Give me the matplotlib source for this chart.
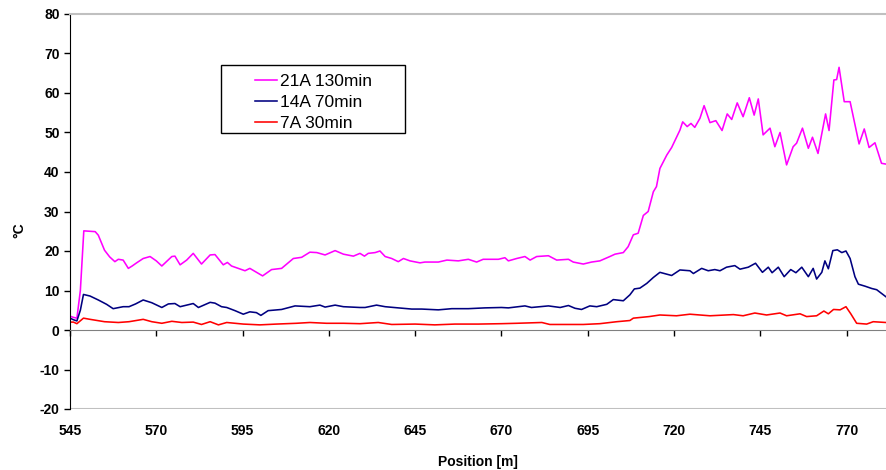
import matplotlib
matplotlib.use('Agg')
from matplotlib import pyplot as plt
from matplotlib.patches import Rectangle

# 21A 130min
x_21a = [545, 546, 547, 548, 549, 550.5, 552.3, 553.2, 555, 556.5, 558, 559, 560.4, 561.9, 563,
         564.3, 566.2, 568.2, 570, 571.6, 574.5, 575.4, 576.9, 578.8, 580.7, 583.1, 585.6, 587,
         589.4, 590.6, 591.8, 595.7, 597.1, 600.8, 603.4, 606.3, 609.7, 612.1, 614.5, 616.5,
         618.9, 621.8, 624.2, 627.1, 629, 630.3, 631.4, 633.4, 634.8, 636.3, 638.2, 640.1, 641.6,
         643.5, 646.4, 647.8, 651.7, 654.2, 657.5, 660.4, 662.8, 664.7, 669.1, 671, 672, 674.4,
         676.8, 678.3, 680.2, 683.6, 686, 689.4, 690.8, 693.7, 696.1, 698.5, 701.4, 702.9, 705.3,
         706.7, 708.2, 709.6, 711.1, 712.5, 714, 714.9, 715.9, 717.9, 719.3, 721.7, 722.5, 723.8,
         724.9, 726, 727.5, 728.7, 730.4, 732.1, 733.9, 735.4, 736.7, 738.3, 740, 741.8, 743.2,
         744.4, 745.8, 747.8, 749.2, 750.7, 752.6, 754.5, 755.5, 757.2, 758.9, 760.1, 761.7,
         763.9, 764.9, 766.3, 767.1, 767.8, 769.3, 771, 773.6, 775.1, 776.5, 778.2, 780.1, 781.4]
y_21a = [3.5, 3.2, 3.0, 10.0, 25.1, 25.0, 24.9, 24.0, 20.2, 18.5, 17.3, 17.9, 17.7, 15.6, 16.2,
         17.0, 18.1, 18.6, 17.5, 16.2, 18.6, 18.7, 16.5, 17.7, 19.4, 16.7, 19.0, 19.1,
         16.5, 17.1, 16.2, 15.0, 15.6, 13.7, 15.3, 15.6, 18.1, 18.4, 19.7, 19.6,
         19.0, 20.1, 19.2, 18.7, 19.4, 18.7, 19.4, 19.6, 20.0, 18.6, 18.1, 17.3, 18.1,
         17.5, 17.0, 17.2, 17.2, 17.7, 17.5, 17.9, 17.2, 17.9, 17.9, 18.3, 17.5, 18.1,
         18.6, 17.7, 18.6, 18.8, 17.7, 17.9, 17.2, 16.7, 17.2, 17.5, 18.6, 19.2, 19.6,
         21.1, 24.1, 24.5, 29.0, 30.0, 35.0, 36.3, 40.9, 44.3, 46.2, 50.6, 52.7, 51.5,
         52.3, 51.3, 53.6, 56.8, 52.5, 53.0, 50.5, 54.7, 53.3, 57.5, 54.0, 58.8, 54.4,
         58.5, 49.4, 51.1, 46.4, 50.0, 41.8, 46.4, 47.3, 51.1, 46.0, 48.8, 44.7,
         54.7, 50.5, 63.3, 63.4, 66.5, 57.8, 57.8, 47.1, 50.9, 46.2, 47.4, 42.2, 42.0]

# 14A 70min
x_14a = [545, 546, 547, 548, 548.9, 550.8, 553.2, 555.6, 557.5, 560.4, 562.1, 564, 566.2, 568.7,
         571.6, 573.5, 575.4, 576.9, 578.8, 580.7, 582.2, 585.6, 587, 588.9, 590.4, 592.8, 595.2,
         597.1, 599, 600.3, 602.4, 606.3, 610.2, 614.5, 617.4, 618.9, 621.8, 624.2, 629, 630.5,
         633.8, 636.3, 640.1, 644, 646.9, 651.7, 655.6, 660.4, 665.2, 670, 672, 676.8, 678.7,
         683.6, 687, 689.4, 691.3, 693.2, 695.6, 697.6, 700.5, 702.4, 705.3, 707.2, 708.5, 710.1,
         712.1, 714, 715.9, 719.3, 721.7, 724.6, 725.6, 728, 729.9, 731.8, 733.3, 735.2, 737.6,
         739.1, 741.5, 743.6, 745.6, 747.3, 748.4, 750.2, 751.9, 753.8, 755.3, 757, 758.9, 760.3,
         761.3, 762.8, 763.7, 764.7, 766, 767.3, 768.6, 769.8, 771, 772.4, 773.4, 775.3, 777.3,
         778.7, 781.4]
y_14a = [3.0, 2.6, 2.3, 5.0, 9.0, 8.6, 7.6, 6.5, 5.4, 5.9, 5.9, 6.6, 7.6, 6.9,
         5.7, 6.6, 6.7, 5.9, 6.3, 6.7, 5.7, 7.0, 6.8, 5.9, 5.7, 4.9, 4.0,
         4.6, 4.4, 3.7, 4.9, 5.2, 6.1, 5.9, 6.3, 5.8, 6.3, 5.9, 5.7, 5.7,
         6.3, 5.9, 5.6, 5.3, 5.3, 5.1, 5.4, 5.4, 5.6, 5.7, 5.6, 6.1, 5.7,
         6.1, 5.7, 6.2, 5.5, 5.2, 6.1, 5.9, 6.5, 7.7, 7.4, 8.9, 10.4, 10.6,
         11.8, 13.3, 14.6, 13.8, 15.2, 15.0, 14.3, 15.6, 15.0, 15.3, 15.0, 15.9, 16.3,
         15.4, 15.9, 16.9, 14.6, 15.9, 14.5, 15.9, 13.5, 15.3, 14.5, 15.9, 13.5, 15.6,
         12.9, 14.6, 17.5, 15.5, 20.1, 20.3, 19.6, 20.0, 18.1, 13.5, 11.6, 11.1, 10.5,
         10.2, 8.4]

# 7A 30min
x_7a = [545, 546, 547, 548.9, 550.8, 555, 559, 562.1, 566.2, 568.7, 571.6, 574.5, 577.4, 580.7,
        583.1, 585.6, 588, 590.4, 595.2, 600, 604.8, 610.6, 614.5, 619.3, 624.2, 629, 634.3,
        638.2, 645, 650.7, 656.5, 663.3, 670, 674.4, 681.7, 684, 693.7, 698.5, 703.4, 707.2,
        708.2, 712.8, 715.9, 720.7, 724.6, 730.4, 737.2, 740, 743.4, 746.8, 750.7, 752.6, 756.5,
        758.4, 761.3, 763.4, 764.7, 766.2, 768.1, 769.8, 771.2, 772.9, 775.8, 777.7, 781.4]
y_7a = [2.0, 2.0, 1.6, 3.0, 2.7, 2.1, 1.9, 2.1, 2.7, 2.1, 1.7, 2.2, 1.9, 2.0,
        1.4, 2.1, 1.3, 1.9, 1.5, 1.3, 1.5, 1.7, 1.9, 1.7, 1.7, 1.6, 1.9,
        1.4, 1.5, 1.3, 1.5, 1.5, 1.6, 1.7, 1.9, 1.4, 1.4, 1.6, 2.1, 2.4,
        3.0, 3.4, 3.8, 3.6, 4.0, 3.6, 3.9, 3.6, 4.3, 3.8, 4.3, 3.6, 4.1,
        3.4, 3.6, 4.8, 4.1, 5.2, 5.1, 5.9, 4.1, 1.7, 1.5, 2.1, 1.9]

series_labels = ['21A 130min', '14A 70min', '7A 30min']
series_colors = ['#ff00ff', '#000080', '#ff0000']
x_ticks = [545, 570, 595, 620, 645, 670, 695, 720, 745, 770]
y_ticks = [-20, -10, 0, 10, 20, 30, 40, 50, 60, 70, 80]

plt.rcParams['font.family'] = ['Liberation Sans', 'DejaVu Sans']
plt.rcParams['axes.unicode_minus'] = False

fig = plt.figure(figsize=(8.86, 4.70), dpi=100)
ax = fig.add_axes([70 / 886, 1 - 409 / 470, 816 / 886, 395 / 470])

for xs, ys, lab, col in zip([x_21a, x_14a, x_7a], [y_21a, y_14a, y_7a], series_labels, series_colors):
	ax.plot(xs, ys, color=col, lw=1.15, label=lab)

ax.set_xlim(545, 781.4)
ax.set_ylim(-20, 80)
ax.set_xticks(x_ticks)
ax.set_yticks(y_ticks)

# x axis line sits at 0, labels stay at the bottom
ax.spines['bottom'].set_position(('data', 0))
ax.spines['bottom'].set_color('#808080')
ax.spines['top'].set_color('#c0c0c0')
ax.spines['top'].set_linewidth(1.5)
ax.spines['right'].set_visible(False)
ax.spines['left'].set_color('black')
ax.axhline(-20, color='#c0c0c0', lw=1.5, zorder=0)

ax.tick_params(axis='x', direction='out', length=4, width=1, pad=64, labelsize=10)
ax.tick_params(axis='y', direction='out', length=4.5, width=1, pad=3, labelsize=10)
for t in ax.get_xticklabels() + ax.get_yticklabels():
	t.set_fontweight('bold')

ax.set_xlabel('Position [m]', fontsize=10, fontweight='bold', labelpad=12)
ax.set_ylabel('°C', fontsize=10, fontweight='bold')
ax.yaxis.set_label_coords(-44 / 816, (409 - 230) / 395)

# legend: text without frame, box drawn separately (Excel style wide box)
ax.add_patch(Rectangle((221 / 886, 1 - 133 / 470), 184 / 886, 68 / 470,
                       transform=fig.transFigure, facecolor='white',
                       edgecolor='black', lw=1, zorder=4, clip_on=False))
leg = ax.legend(loc='upper left', bbox_to_anchor=(255 / 886, 1 - 74 / 470),
                bbox_transform=fig.transFigure, borderaxespad=0, borderpad=0,
                fontsize=12.5, frameon=False, handlelength=1.26, handletextpad=0.17,
                labelspacing=0.33)
leg.set_zorder(5)

fig.savefig('out.png', dpi=100)
